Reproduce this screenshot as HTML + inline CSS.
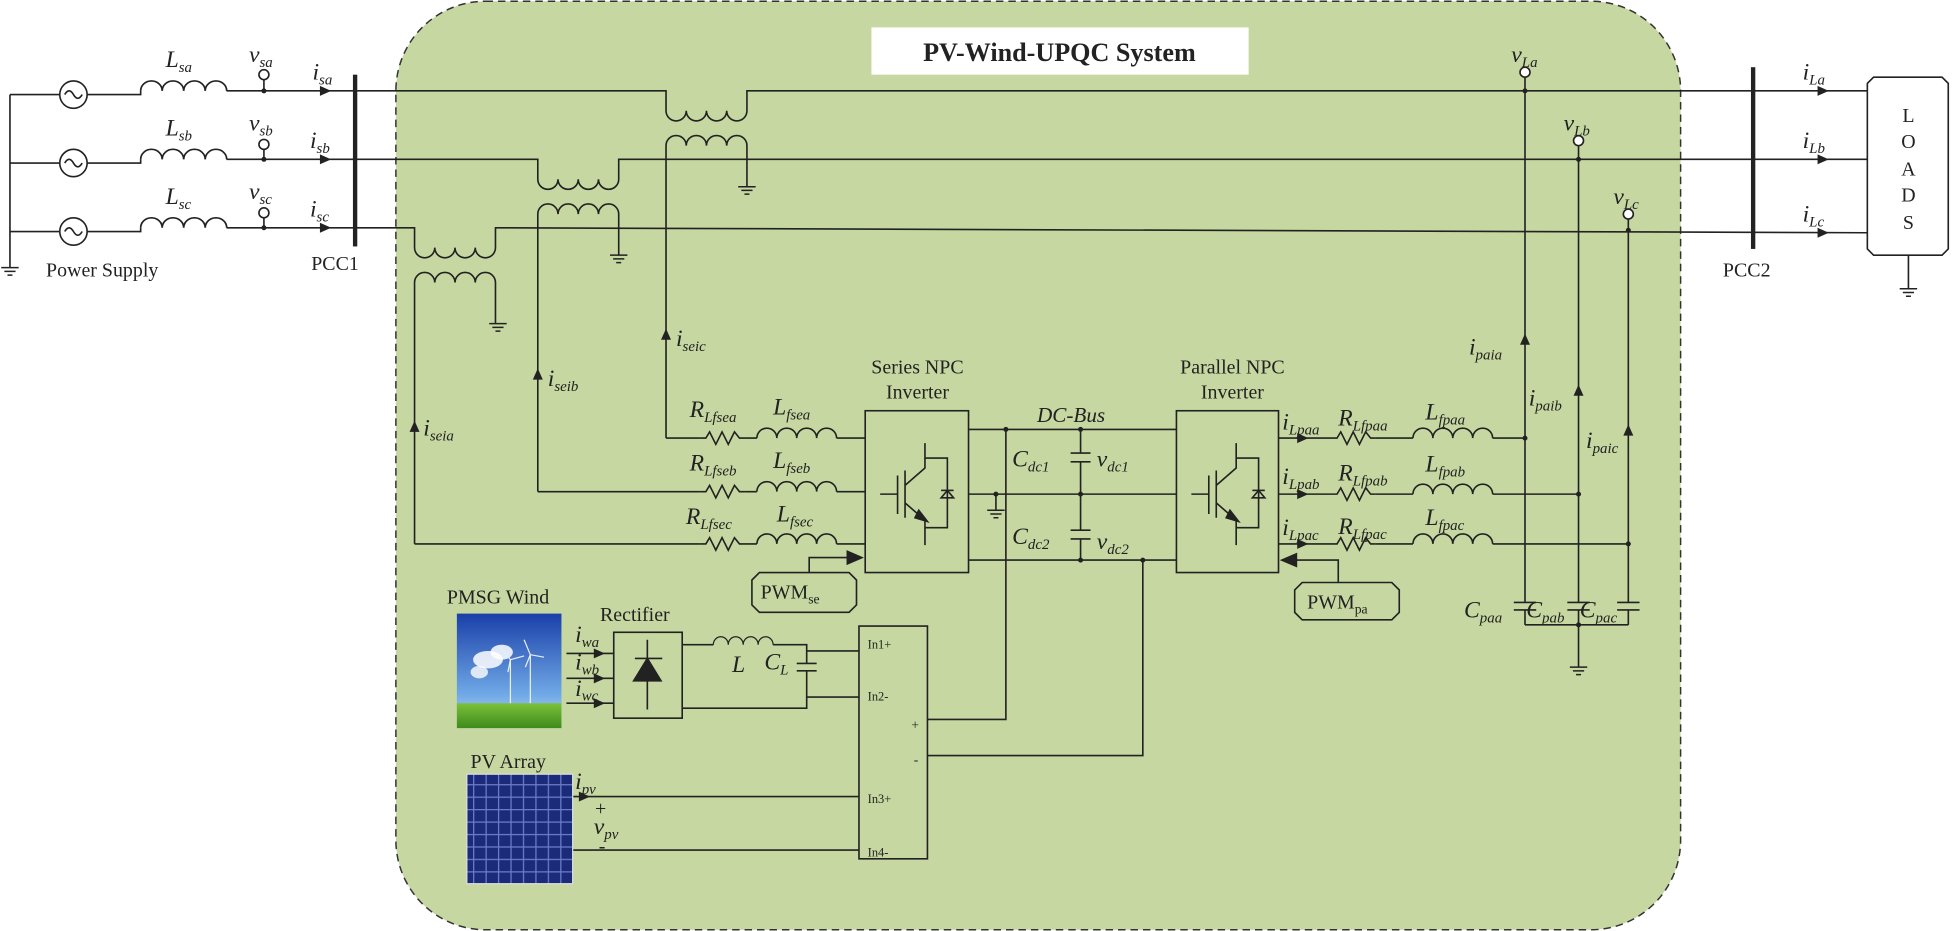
<!DOCTYPE html>
<html><head><meta charset="utf-8"><style>
html,body{margin:0;padding:0;background:#fff}
svg{display:block}
text{font-family:"Liberation Serif",serif;fill:#222}
.it{font-style:italic;font-size:19px}
.s{font-size:12px}
.n{font-size:16px}
.sm{font-size:11px}
</style></head><body>
<svg width="1952" height="931" viewBox="0 0 1568 748" preserveAspectRatio="none" xmlns="http://www.w3.org/2000/svg">
<defs>
<path id="ind" d="M0,0 a8,8 0 0 1 16,0 a8,8 0 0 1 16,0 a8,8 0 0 1 16,0 a8,8 0 0 1 16,0" fill="none"/>
<path id="res" d="M0,0 h4 l3,-5 l5,10 l5,-10 l5,10 l5,-10 l4,5 h4" fill="none"/>
<g id="gnd"><path d="M-7,0 h14 M-4.5,3 h9 M-2,6 h4" stroke="#222" stroke-width="1.2"/></g>
<g id="ar"><polygon points="-5,-4 4,0 -5,4" fill="#222"/></g>
<g id="igbt" fill="none" stroke="#222" stroke-width="1.3">
<path d="M10,67 h14 M24,52 v31 M30,48 v38 M30,60 l16,-14 v-20 M30,74 l16,14 v20 M46,38 h18 v56 h-18"/>
<polygon points="41,80 48,89 38,86" fill="#222"/>
<polygon points="59,70 69,70 64,64" fill="none"/><path d="M59,64 h10"/>
</g>
<linearGradient id="sky" x1="0" y1="0" x2="0" y2="1"><stop offset="0" stop-color="#1a3fa8"/><stop offset="0.7" stop-color="#6fa8e6"/><stop offset="1" stop-color="#bcd9f2"/></linearGradient>
<linearGradient id="grass" x1="0" y1="0" x2="0" y2="1"><stop offset="0" stop-color="#7cc13a"/><stop offset="1" stop-color="#3e8a1c"/></linearGradient>
<pattern id="pvg" width="10" height="10" patternUnits="userSpaceOnUse"><rect width="10" height="10" fill="#1c2a7a"/><path d="M0,0.5 H10 M0.5,0 V10" stroke="#6a7ec8" stroke-width="1"/></pattern>
</defs>

<rect x="318" y="1" width="1032" height="746" rx="72" ry="72" fill="#c6d7a1" stroke="#333" stroke-width="1.2" stroke-dasharray="6,4"/>
<rect x="700" y="22" width="303" height="38" fill="#fff"/>
<text x="851" y="49" text-anchor="middle" style="font-weight:bold;font-size:21px">PV-Wind-UPQC System</text>

<g fill="none" stroke="#222" stroke-width="1.3">
<path d="M8,76 V215 M8,76 H48 M70,76 H113 V73 M8,131 H48 M70,131 H113 V128 M8,186 H48 M70,186 H113 V183"/>
<circle cx="59" cy="76" r="11"/><circle cx="59" cy="131" r="11"/><circle cx="59" cy="186" r="11"/>
<path d="M52,76 q3.5,-6 7,0 t7,0 M52,131 q3.5,-6 7,0 t7,0 M52,186 q3.5,-6 7,0 t7,0"/>
<use href="#ind" transform="translate(113,73) scale(1.08,1)"/>
<use href="#ind" transform="translate(113,128) scale(1.08,1)"/>
<use href="#ind" transform="translate(113,183) scale(1.08,1)"/>
<path d="M182,73 H535 V89 a8.1,8.1 0 0 0 16.25,0 a8.1,8.1 0 0 0 16.25,0 a8.1,8.1 0 0 0 16.25,0 a8.1,8.1 0 0 0 16.25,0 V73 H1500"/>
<path d="M182,128 H432 V144 a8.1,8.1 0 0 0 16.25,0 a8.1,8.1 0 0 0 16.25,0 a8.1,8.1 0 0 0 16.25,0 a8.1,8.1 0 0 0 16.25,0 V128 H1500"/>
<path d="M182,183 H333 V199 a8.1,8.1 0 0 0 16.25,0 a8.1,8.1 0 0 0 16.25,0 a8.1,8.1 0 0 0 16.25,0 a8.1,8.1 0 0 0 16.25,0 V183 L1500,187"/>
<path d="M535,352 V117 a8.1,8.1 0 0 1 16.25,0 a8.1,8.1 0 0 1 16.25,0 a8.1,8.1 0 0 1 16.25,0 a8.1,8.1 0 0 1 16.25,0 V150"/>
<path d="M432,395 V172 a8.1,8.1 0 0 1 16.25,0 a8.1,8.1 0 0 1 16.25,0 a8.1,8.1 0 0 1 16.25,0 a8.1,8.1 0 0 1 16.25,0 V205"/>
<path d="M333,437 V227 a8.1,8.1 0 0 1 16.25,0 a8.1,8.1 0 0 1 16.25,0 a8.1,8.1 0 0 1 16.25,0 a8.1,8.1 0 0 1 16.25,0 V260"/>
<path d="M212,64 V73 M212,120 V128 M212,175 V183"/>
<circle cx="212" cy="60" r="4" fill="#fff"/><circle cx="212" cy="116" r="4" fill="#fff"/><circle cx="212" cy="171" r="4" fill="#fff"/>
<path d="M535,352 H563 M598,352 H608 M672,352 H695"/>
<use href="#res" transform="translate(563,352)"/>
<use href="#ind" transform="translate(608,352)"/>
<path d="M432,395 H563 M598,395 H608 M672,395 H695"/>
<use href="#res" transform="translate(563,395)"/>
<use href="#ind" transform="translate(608,395)"/>
<path d="M333,437 H563 M598,437 H608 M672,437 H695"/>
<use href="#res" transform="translate(563,437)"/>
<use href="#ind" transform="translate(608,437)"/>
<rect x="695" y="330" width="83" height="130"/>
<use href="#igbt" transform="translate(697,330)"/>
<path d="M650,460 V448 H686"/>
<path d="M610,460 h72 l6,6 v20 l-6,6 h-72 l-6,-6 v-20 z"/>
<path d="M778,345 H945 M778,397 H945 M778,450 H945 M808,345 V578 H745 M918,450 V607 H745"/>
<path d="M800,397 V410"/>
<path d="M868,345 V364 M860,364 H876 M860,371 H876 M868,371 V426 M860,426 H876 M860,433 H876 M868,433 V450"/>
<rect x="945" y="330" width="82" height="130"/>
<use href="#igbt" transform="translate(947,330)"/>
<path d="M1075,468 V450 H1040"/>
<path d="M1046,468 h72 l6,6 v18 l-6,6 h-72 l-6,-6 v-18 z"/>
<path d="M1027,352 H1070 M1105,352 H1135 M1199,352 H1225"/>
<use href="#res" transform="translate(1070,352)"/>
<use href="#ind" transform="translate(1135,352)"/>
<path d="M1027,397 H1070 M1105,397 H1135 M1199,397 H1268"/>
<use href="#res" transform="translate(1070,397)"/>
<use href="#ind" transform="translate(1135,397)"/>
<path d="M1027,437 H1070 M1105,437 H1135 M1199,437 H1308"/>
<use href="#res" transform="translate(1070,437)"/>
<use href="#ind" transform="translate(1135,437)"/>
<path d="M1225,62 V484 M1268,117 V484 M1308,176 V484"/>
<path d="M1216,484 H1234 M1216,490 H1234 M1259,484 H1277 M1259,490 H1277 M1299,484 H1317 M1299,490 H1317"/>
<path d="M1225,490 V502 M1268,490 V502 M1308,490 V502 M1225,502 H1308 M1268,502 V536"/>
<circle cx="1225" cy="58" r="4" fill="#fff"/><circle cx="1268" cy="113" r="4" fill="#fff"/><circle cx="1308" cy="172" r="4" fill="#fff"/>
<path d="M1533,205 V232"/>
<path d="M1505,62 h55 l5,5 v133 l-5,5 h-55 l-5,-5 v-133 z" fill="#fff"/>
<path d="M455,525 H493 M455,545 H493 M455,565 H493"/>
<rect x="493" y="508" width="55" height="69"/>
<path d="M520,514 V570 M510,529 H532"/>
<polygon points="509,547 531,547 520,529" fill="#222"/>
<path d="M548,518 H573 M621,518 H648 V533 M640,533 H656 M640,539 H656 M648,539 V569 H548 M648,523 H690 M648,560 H690"/>
<use href="#ind" transform="translate(573,518) scale(0.75,0.8)"/>
<rect x="690" y="503" width="55" height="187"/>
<path d="M460,640 H690 M460,683 H690"/>
</g>
<use href="#gnd" transform="translate(8,215)"/>
<use href="#gnd" transform="translate(600,150)"/>
<use href="#gnd" transform="translate(497,205)"/>
<use href="#gnd" transform="translate(400,260)"/>
<use href="#gnd" transform="translate(800,410)"/>
<use href="#gnd" transform="translate(1268,536)"/>
<use href="#gnd" transform="translate(1533,232)"/>
<rect x="283.5" y="60" width="3.5" height="138" fill="#222"/>
<rect x="1406.5" y="54" width="3.5" height="146" fill="#222"/>
<g fill="#222">
<circle cx="212" cy="73" r="2"/><circle cx="212" cy="128" r="2"/><circle cx="212" cy="183" r="2"/>
<circle cx="808" cy="345" r="2"/><circle cx="868" cy="345" r="2"/><circle cx="800" cy="397" r="2"/><circle cx="868" cy="397" r="2"/><circle cx="868" cy="450" r="2"/><circle cx="918" cy="450" r="2"/>
<circle cx="1225" cy="73" r="2"/><circle cx="1268" cy="128" r="2"/><circle cx="1308" cy="185" r="2"/>
<circle cx="1225" cy="352" r="2"/><circle cx="1268" cy="397" r="2"/><circle cx="1308" cy="437" r="2"/><circle cx="1268" cy="502" r="2"/>
<polygon points="680,442 694,448 680,454"/>
<polygon points="1042,444 1028,450 1042,456"/>
</g>
<use href="#ar" transform="translate(262,73)"/><use href="#ar" transform="translate(262,128)"/><use href="#ar" transform="translate(262,183)"/>
<use href="#ar" transform="translate(1465,73)"/><use href="#ar" transform="translate(1465,128)"/><use href="#ar" transform="translate(1465,187)"/>
<use href="#ar" transform="translate(535,268) rotate(-90)"/><use href="#ar" transform="translate(432,300) rotate(-90)"/><use href="#ar" transform="translate(333,342) rotate(-90)"/>
<use href="#ar" transform="translate(1225,272) rotate(-90)"/><use href="#ar" transform="translate(1268,313) rotate(-90)"/><use href="#ar" transform="translate(1308,345) rotate(-90)"/>
<use href="#ar" transform="translate(1047,352)"/><use href="#ar" transform="translate(1047,397)"/><use href="#ar" transform="translate(1047,437)"/>
<use href="#ar" transform="translate(482,525)"/><use href="#ar" transform="translate(482,545)"/><use href="#ar" transform="translate(482,565)"/>
<use href="#ar" transform="translate(470,640)"/>

<rect x="367" y="493" width="84" height="92" fill="url(#sky)"/>
<ellipse cx="392" cy="530" rx="12" ry="7" fill="#fff" opacity="0.85"/>
<ellipse cx="403" cy="524" rx="9" ry="6" fill="#fff" opacity="0.85"/>
<ellipse cx="385" cy="540" rx="7" ry="5" fill="#fff" opacity="0.8"/>
<g stroke="#e8eef8" stroke-width="1"><path d="M410,530 V570 M426,526 V570 M410,530 l-8,-10 M410,530 l11,-3 M410,530 l-2,10 M426,526 l-5,-12 M426,526 l11,2 M426,526 l-4,10"/></g>
<rect x="367" y="565" width="84" height="20" fill="url(#grass)"/>
<rect x="375" y="622" width="85" height="88" fill="url(#pvg)" stroke="#ddd" stroke-width="1"/>

<text x="133" y="54" class="it">L<tspan class="s" dy="4">sa</tspan></text>
<text x="133" y="109" class="it">L<tspan class="s" dy="4">sb</tspan></text>
<text x="133" y="164" class="it">L<tspan class="s" dy="4">sc</tspan></text>
<text x="200" y="50" class="it">v<tspan class="s" dy="4">sa</tspan></text>
<text x="200" y="105" class="it">v<tspan class="s" dy="4">sb</tspan></text>
<text x="200" y="160" class="it">v<tspan class="s" dy="4">sc</tspan></text>
<text x="251" y="64" class="it">i<tspan class="s" dy="4">sa</tspan></text>
<text x="249" y="119" class="it">i<tspan class="s" dy="4">sb</tspan></text>
<text x="249" y="174" class="it">i<tspan class="s" dy="4">sc</tspan></text>
<text x="37" y="222" class="n">Power Supply</text>
<text x="250" y="217" class="n">PCC1</text>
<text x="1384" y="222" class="n">PCC2</text>
<text x="1214" y="50" class="it">v<tspan class="s" dy="4">La</tspan></text>
<text x="1256" y="105" class="it">v<tspan class="s" dy="4">Lb</tspan></text>
<text x="1296" y="164" class="it">v<tspan class="s" dy="4">Lc</tspan></text>
<text x="1448" y="64" class="it">i<tspan class="s" dy="4">La</tspan></text>
<text x="1448" y="119" class="it">i<tspan class="s" dy="4">Lb</tspan></text>
<text x="1448" y="178" class="it">i<tspan class="s" dy="4">Lc</tspan></text>
<g class="n" text-anchor="middle" style="font-size:16px">
<text x="1533" y="98">L</text><text x="1533" y="119">O</text><text x="1533" y="141">A</text><text x="1533" y="162">D</text><text x="1533" y="184">S</text>
</g>
<text x="543" y="278" class="it">i<tspan class="s" dy="4">seic</tspan></text>
<text x="440" y="310" class="it">i<tspan class="s" dy="4">seib</tspan></text>
<text x="340" y="350" class="it">i<tspan class="s" dy="4">seia</tspan></text>
<text x="554" y="335" class="it">R<tspan class="s" dy="4">Lfsea</tspan></text>
<text x="621" y="333" class="it">L<tspan class="s" dy="4">fsea</tspan></text>
<text x="554" y="378" class="it">R<tspan class="s" dy="4">Lfseb</tspan></text>
<text x="621" y="376" class="it">L<tspan class="s" dy="4">fseb</tspan></text>
<text x="551" y="421" class="it">R<tspan class="s" dy="4">Lfsec</tspan></text>
<text x="624" y="419" class="it">L<tspan class="s" dy="4">fsec</tspan></text>
<text x="737" y="300" class="n" text-anchor="middle">Series NPC</text>
<text x="737" y="320" class="n" text-anchor="middle">Inverter</text>
<text x="990" y="300" class="n" text-anchor="middle">Parallel NPC</text>
<text x="990" y="320" class="n" text-anchor="middle">Inverter</text>
<text x="833" y="339" class="it" style="font-size:17px">DC-Bus</text>
<text x="813" y="375" class="it">C<tspan class="s" dy="4">dc1</tspan></text>
<text x="881" y="375" class="it">v<tspan class="s" dy="4">dc1</tspan></text>
<text x="813" y="437" class="it">C<tspan class="s" dy="4">dc2</tspan></text>
<text x="881" y="441" class="it">v<tspan class="s" dy="4">dc2</tspan></text>
<text x="611" y="481" class="n">PWM<tspan class="sm" dy="4">se</tspan></text>
<text x="1050" y="489" class="n">PWM<tspan class="sm" dy="4">pa</tspan></text>
<text x="1030" y="345" class="it">i<tspan class="s" dy="4">Lpaa</tspan></text>
<text x="1030" y="389" class="it">i<tspan class="s" dy="4">Lpab</tspan></text>
<text x="1030" y="430" class="it">i<tspan class="s" dy="4">Lpac</tspan></text>
<text x="1075" y="342" class="it">R<tspan class="s" dy="4">Lfpaa</tspan></text>
<text x="1075" y="386" class="it">R<tspan class="s" dy="4">Lfpab</tspan></text>
<text x="1075" y="429" class="it">R<tspan class="s" dy="4">Lfpac</tspan></text>
<text x="1145" y="337" class="it">L<tspan class="s" dy="4">fpaa</tspan></text>
<text x="1145" y="379" class="it">L<tspan class="s" dy="4">fpab</tspan></text>
<text x="1145" y="422" class="it">L<tspan class="s" dy="4">fpac</tspan></text>
<text x="1180" y="285" class="it">i<tspan class="s" dy="4">paia</tspan></text>
<text x="1228" y="326" class="it">i<tspan class="s" dy="4">paib</tspan></text>
<text x="1274" y="360" class="it">i<tspan class="s" dy="4">paic</tspan></text>
<text x="1176" y="496" class="it">C<tspan class="s" dy="4">paa</tspan></text>
<text x="1226" y="496" class="it">C<tspan class="s" dy="4">pab</tspan></text>
<text x="1269" y="496" class="it">C<tspan class="s" dy="4">pac</tspan></text>
<text x="359" y="485" class="n">PMSG Wind</text>
<text x="482" y="499" class="n">Rectifier</text>
<text x="462" y="516" class="it">i<tspan class="s" dy="4">wa</tspan></text>
<text x="462" y="538" class="it">i<tspan class="s" dy="4">wb</tspan></text>
<text x="462" y="559" class="it">i<tspan class="s" dy="4">wc</tspan></text>
<text x="588" y="540" class="it">L</text>
<text x="614" y="538" class="it">C<tspan class="s" dy="4">L</tspan></text>
<text x="697" y="521" style="font-size:10px">In1+</text>
<text x="697" y="563" style="font-size:10px">In2-</text>
<text x="732" y="586" style="font-size:11px">+</text>
<text x="734" y="614" style="font-size:11px">-</text>
<text x="697" y="645" style="font-size:10px">In3+</text>
<text x="697" y="688" style="font-size:10px">In4-</text>
<text x="378" y="617" class="n">PV Array</text>
<text x="462" y="634" class="it">i<tspan class="s" dy="4">pv</tspan></text>
<text x="478" y="655" style="font-size:16px">+</text>
<text x="477" y="670" class="it">v<tspan class="s" dy="4">pv</tspan></text>
<text x="481" y="685" style="font-size:16px">-</text>
</svg>
</body></html>
